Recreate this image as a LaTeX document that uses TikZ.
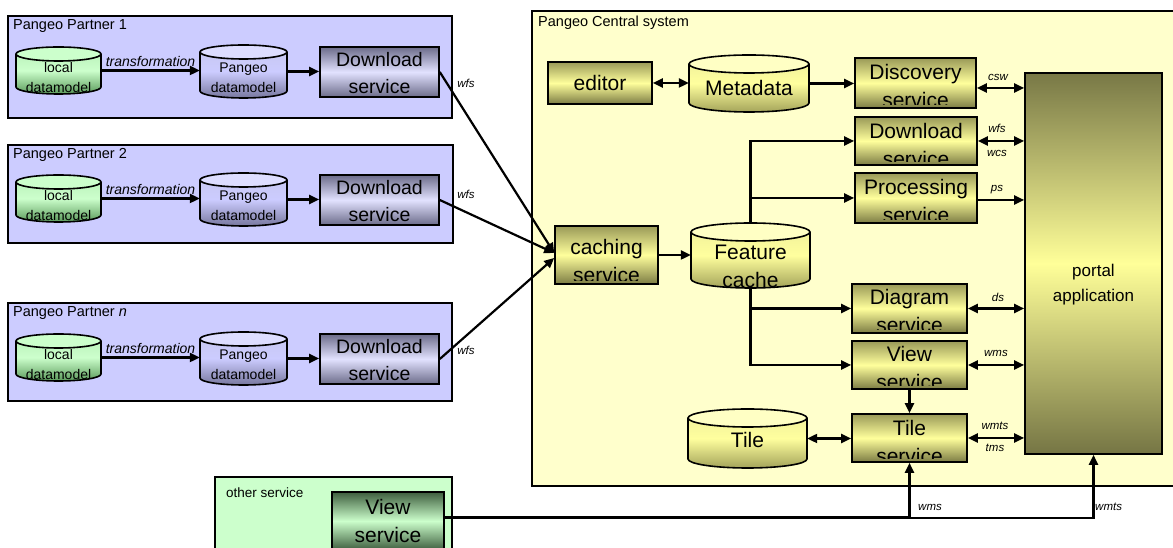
\documentclass[tikz,border=0pt]{standalone}
\usepackage{fontspec}
\setmainfont{Liberation Sans}
\usetikzlibrary{arrows.meta}
\definecolor{lav}{HTML}{CCCCFF}
\definecolor{cream}{HTML}{FFFFCC}
\definecolor{mint}{HTML}{CCFFCC}
\definecolor{yTop}{HTML}{9A9A58}
\definecolor{yMid}{HTML}{FFFF9C}
\definecolor{yBot}{HTML}{7C7C44}
\definecolor{pTop}{HTML}{787846}
\definecolor{pMid}{HTML}{FFFF99}
\definecolor{pBot}{HTML}{757544}
\definecolor{cyTop}{HTML}{EDED9A}
\definecolor{cyMid}{HTML}{FFFF9E}
\definecolor{cyBot}{HTML}{A4A45A}
\definecolor{cyCap}{HTML}{FFFFC4}
\definecolor{gTop}{HTML}{B6EEB6}
\definecolor{gMid}{HTML}{CCFFCC}
\definecolor{gBot}{HTML}{5A9A5A}
\definecolor{gCap}{HTML}{CCFFCC}
\definecolor{lTop}{HTML}{C6C6EE}
\definecolor{lMid}{HTML}{CCCCFF}
\definecolor{lBot}{HTML}{77779E}
\definecolor{lCap}{HTML}{DDDDFF}
\definecolor{dTop}{HTML}{6C6C8A}
\definecolor{dMid}{HTML}{E2E2FF}
\definecolor{dBot}{HTML}{6C6C8A}
\definecolor{oTop}{HTML}{3E5E3E}
\definecolor{oMid}{HTML}{CCFFCC}
\definecolor{oBot}{HTML}{3E5E3E}
\newcommand{\boxfnt}{\fontsize{21}{28}\selectfont}
\newcommand{\partfnt}{\fontsize{19.5}{27}\selectfont}
\newcommand{\portfnt}{\fontsize{17}{25}\selectfont}
\newcommand{\cylfnt}{\fontsize{14}{20}\selectfont}
\tikzset{
  grp/.style={draw, line width=1.6pt, inner sep=0},
  arr/.style={line width=2.2pt, -{Triangle[length=10pt,width=9pt]}},
  dbl/.style={line width=2.2pt, {Triangle[length=10pt,width=9pt]}-{Triangle[length=10pt,width=9pt]}},
  ttl/.style={font=\fontsize{14.5}{16}\selectfont, anchor=west, inner sep=0},
  lab/.style={font=\fontsize{11.5}{13}\selectfont\itshape, inner sep=0},
  % #1 text, #2 text shift, #3 font, #4 bottom clip inset
  svcbox/.style n args={4}{draw, line width=1.6pt, inner sep=0,
    path picture={\clip ([yshift=#4]path picture bounding box.south west) rectangle (path picture bounding box.north east);
      \node[align=center, inner sep=0, font=#3] at ([yshift=#2]path picture bounding box.center) {#1};}},
  ybox/.style 2 args={svcbox={#1}{#2}{\boxfnt}{3pt}, top color=yTop, bottom color=yBot, middle color=yMid},
  dbox/.style 2 args={svcbox={#1}{#2}{\partfnt}{0pt}, top color=dTop, bottom color=dBot, middle color=dMid},
  obox/.style 2 args={svcbox={#1}{#2}{\boxfnt}{0pt}, top color=oTop, bottom color=oBot, middle color=oMid},
  pbox/.style 2 args={svcbox={#1}{#2}{\portfnt}{0pt}, top color=pTop, bottom color=pBot, middle color=pMid},
  cylY/.style={top color=cyTop, bottom color=cyBot, middle color=cyMid},
  cylY top/.style={fill=cyCap},
  cylY text/.style={align=center, inner sep=0, font=\boxfnt},
  cylG/.style={top color=gTop, bottom color=gBot, middle color=gMid},
  cylG top/.style={fill=gCap},
  cylG text/.style={align=center, inner sep=0, font=\cylfnt},
  cylL/.style={top color=lTop, bottom color=lBot, middle color=lMid},
  cylL top/.style={fill=lCap},
  cylL text/.style={align=center, inner sep=0, font=\cylfnt},
}
% #1 name #2 cx #3 cy #4 w #5 h #6 ry #7 family #8 text #9 text shift
\newcommand{\cyl}[9]{%
  \pgfmathsetmacro\cylRX{#4/2}%
  \pgfmathsetmacro\cylXL{#2-#4/2}%
  \pgfmathsetmacro\cylXR{#2+#4/2}%
  \pgfmathsetmacro\cylYT{#3+#5/2-#6}%
  \pgfmathsetmacro\cylYB{#3-#5/2+#6}%
  \pgfmathsetmacro\cylTop{#3+#5/2}%
  \pgfmathsetmacro\cylBot{#3-#5/2}%
  \pgfmathsetmacro\cylTY{#3+#9}%
  \begin{scope}
    \clip (\cylXL,\cylYT) -- (\cylXL,\cylYB) arc[start angle=180,end angle=360,x radius=\cylRX,y radius=#6]
      -- (\cylXR,\cylYT) arc[start angle=0,end angle=180,x radius=\cylRX,y radius=#6] -- cycle;
    \shade[cyl#7] (\cylXL,\cylTop) rectangle (\cylXR,\cylBot);
    \node[cyl#7 text] at (#2,\cylTY) {#8};
  \end{scope}
  \filldraw[cyl#7 top, line width=1.6pt] (#2,\cylYT) ellipse[x radius=\cylRX, y radius=#6];
  \draw[line width=1.6pt] (\cylXL,\cylYT) -- (\cylXL,\cylYB) arc[start angle=180,end angle=360,x radius=\cylRX,y radius=#6] -- (\cylXR,\cylYT);
  \node[inner sep=0, minimum width=#4, minimum height=#5] (#1) at (#2,#3) {};
}
\begin{document}
\begin{tikzpicture}[x=1pt,y=1pt]
\clip (0,0) rectangle (1173,548);
\fill[white] (0,0) rectangle (1173,548);

% containers
\node[grp, fill=lav, minimum width=444, minimum height=102] (pp1) at (230,481) {};
\node[grp, fill=lav, minimum width=445, minimum height=98] (pp2) at (230.5,354) {};
\node[grp, fill=lav, minimum width=444, minimum height=98] (ppn) at (230,196) {};
\node[grp, fill=cream, minimum width=658, minimum height=475] (central) at (861,299.5) {};
\node[grp, fill=mint, minimum width=237, minimum height=83] (other) at (333.5,29.5) {};
\node[ttl] (t1) at (13,522) {Pangeo Partner 1};
\node[ttl] (t2) at (13,393) {Pangeo Partner 2};
\node[ttl] (tn) at (13,235) {Pangeo Partner \textit{n}};
\node[ttl] (tc) at (538,525) {Pangeo Central system};
\node[ttl, font=\fontsize{13.5}{16}\selectfont] (to) at (226,55) {other service};

% partner 1
\cyl{loc1}{58.5}{477.5}{85}{47}{7}{G}{local\\datamodel}{-7.5}
\cyl{pang1}{243.5}{476.5}{87}{53}{7}{L}{Pangeo\\datamodel}{-6.5}
\node[dbox={Download\\service}{-1.5pt}, minimum width=119, minimum height=50] (dl1) at (379.5,476) {};
% partner 2
\cyl{loc2}{58.5}{349.5}{85}{47}{7}{G}{local\\datamodel}{-7.5}
\cyl{pang2}{243.5}{348.5}{87}{53}{7}{L}{Pangeo\\datamodel}{-6.5}
\node[dbox={Download\\service}{-1.5pt}, minimum width=119, minimum height=50] (dl2) at (379.5,348) {};
% partner n
\cyl{locn}{58.5}{190.5}{85}{47}{7}{G}{local\\datamodel}{-7.5}
\cyl{pangn}{243.5}{189.5}{87}{53}{7}{L}{Pangeo\\datamodel}{-6.5}
\node[dbox={Download\\service}{-1.5pt}, minimum width=119, minimum height=50] (dln) at (379.5,189) {};

% central
\node[ybox={editor}{0pt}, minimum width=104, minimum height=42] (ed) at (600,465) {};
\cyl{meta}{749}{464.5}{120}{57}{9}{Y}{Metadata}{-4.5}
\node[ybox={Discovery\\service}{-3pt}, minimum width=121, minimum height=50] (disc) at (915.5,465) {};
\node[ybox={Download\\service}{-4.5pt}, minimum width=122, minimum height=48] (cdl) at (916,407) {};
\node[ybox={Processing\\service}{-3pt}, minimum width=122, minimum height=50] (proc) at (916,350) {};
\node[ybox={caching\\service}{-6pt}, minimum width=103, minimum height=58] (cach) at (606.5,293) {};
\cyl{fc}{750.5}{292.5}{119}{65}{9}{Y}{Feature\\cache}{-11}
\node[ybox={Diagram\\service}{-3pt}, minimum width=115, minimum height=49] (diag) at (909.5,239.5) {};
\node[ybox={View\\service}{-3pt}, minimum width=115, minimum height=48] (view) at (909.5,183) {};
\node[ybox={Tile\\service}{-4pt}, minimum width=115, minimum height=48] (ts) at (909.5,110) {};
\cyl{tile}{747.5}{109.5}{119}{59}{9}{Y}{Tile}{-1.5}
\node[pbox={portal\\application}{-21pt}, minimum width=137, minimum height=381] (portal) at (1093.5,284.5) {};

% other service
\node[obox={View\\service}{0pt}, minimum width=112, minimum height=58] (ov) at (388,27) {};

% partner arrows
\foreach \s in {1,2,n}{
  \draw[arr] (loc\s.east) -- (loc\s.east -| pang\s.west)
    node[midway, above=3pt, font=\fontsize{14}{16}\selectfont\itshape, inner sep=0] {transformation};
  \draw[arr] (pang\s.east) -- (pang\s.east -| dl\s.west);
}
\node[lab] (w1) at (466,465) {wfs};
\node[lab] (w2) at (466,354) {wfs};
\node[lab] (wn) at (466,198) {wfs};
\draw[arr] (dl1.east) -- ([yshift=2pt]cach.west);
\draw[arr] (dl2.east) -- ([yshift=2pt]cach.west);
\draw[arr] (dln.east) -- ([yshift=-3pt]cach.west);

% central arrows
\draw[dbl] (ed.east) -- (ed.east -| meta.west);
\draw[arr] (meta.east) -- (meta.east -| disc.west);
\draw[dbl] ([yshift=-5pt]disc.east) -- ([yshift=-5pt]disc.east -| portal.west);
\draw[dbl] (cdl.east) -- (cdl.east -| portal.west);
\draw[arr] ([yshift=-2pt]proc.east) -- ([yshift=-2pt]proc.east -| portal.west);
\draw[dbl] (diag.east) -- (diag.east -| portal.west);
\draw[dbl] (view.east) -- (view.east -| portal.west);
\draw[dbl] (ts.east) -- (ts.east -| portal.west);
\draw[arr] (cach.east) -- (cach.east -| fc.west);
\draw[arr] (fc.north) -- (fc.north |- cdl.west) -- (cdl.west);
\draw[arr] (fc.north |- proc.west) -- (proc.west);
\draw[arr] (fc.south) -- (fc.south |- view.west) -- (view.west);
\draw[arr] (fc.south |- diag.west) -- (diag.west);
\draw[arr] (view.south) -- (ts.north);
\draw[dbl] (tile.east) -- (tile.east -| ts.west);

\node[lab] (lcsw) at (998,471) {csw};
\node[lab] (lwfs) at (997,420) {wfs};
\node[lab] (lwcs) at (997,395) {wcs};
\node[lab] (lps) at (997,358) {ps};
\node[lab] (lds) at (998,251) {ds};
\node[lab] (lwms) at (996,195) {wms};
\node[lab] (lwmts) at (995,122) {wmts};
\node[lab] (ltms) at (995,100) {tms};

% other service line
\coordinate (oe) at ([yshift=3pt]ov.east);
\coordinate (j1) at (ts.south |- oe);
\coordinate (j2) at (portal.south |- oe);
\draw[line width=3pt] (oe) -- (j1);
\draw[arr] (j1) -- (ts.south);
\draw[arr, line join=miter] (j1) -- (j2) -- (portal.south);
\node[lab, anchor=west] (lw2) at (918,41) {wms};
\node[lab, anchor=west] (lw3) at (1095,41) {wmts};
\end{tikzpicture}
\end{document}
